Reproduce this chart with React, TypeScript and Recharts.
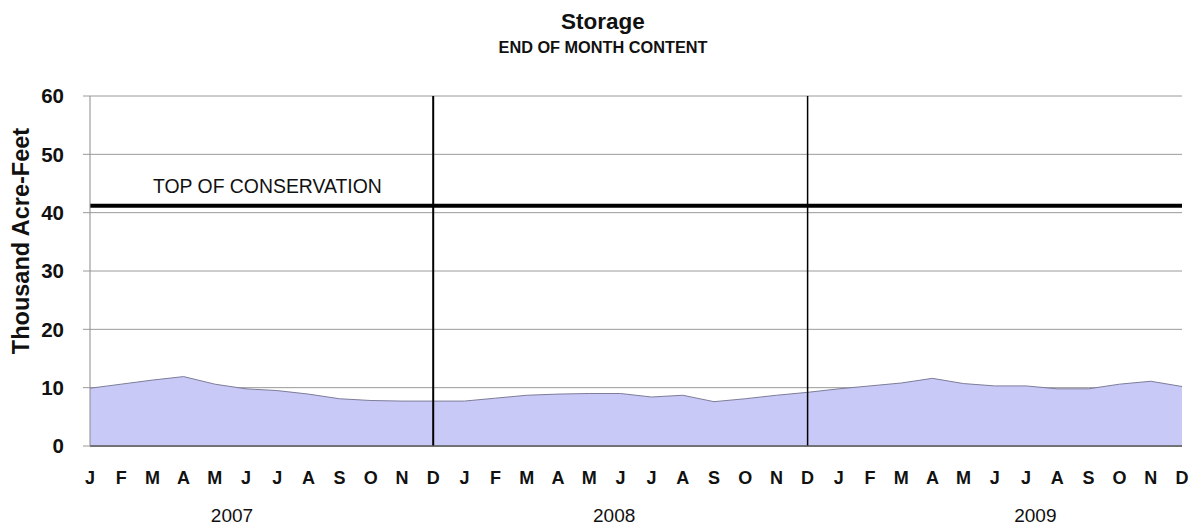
import React from 'react'
import { AreaChart, Area, XAxis, YAxis, CartesianGrid, ReferenceLine } from 'recharts'

const years = ['2007', '2008', '2009']
const months = ['J', 'F', 'M', 'A', 'M', 'J', 'J', 'A', 'S', 'O', 'N', 'D']

// end of month content, thousand acre-feet
const storage2007 = [9.9, 10.6, 11.3, 11.9, 10.6, 9.8, 9.5, 8.9, 8.1, 7.8, 7.7, 7.7]
const storage2008 = [7.7, 8.2, 8.7, 8.9, 9.0, 9.0, 8.4, 8.7, 7.6, 8.1, 8.7, 9.2]
const storage2009 = [9.8, 10.3, 10.8, 11.6, 10.7, 10.3, 10.3, 9.8, 9.8, 10.6, 11.1, 10.2]

const topOfConservation = 41.2
const yTicks = [0, 10, 20, 30, 40, 50, 60]
// where the year captions sit, in month-index units along the axis
const yearTickPos = [4.55, 16.8, 30.3]

const allValues = [storage2007, storage2008, storage2009]

const chartData = years.flatMap((yr, yi) =>
  months.map((m, mi) => ({
    key: `${yr}-${mi + 1}`,
    month: m,
    idx: yi * 12 + mi,
    storage: allValues[yi][mi],
  }))
)

const font = 'Arial, "Liberation Sans", Helvetica, sans-serif'

function MonthTick(props: any) {
  const { x, y, payload } = props
  const row = chartData.find((d) => d.key === payload.value)
  return (
    <text
      x={x}
      y={y + 36}
      textAnchor="middle"
      fontFamily={font}
      fontWeight="bold"
      fontSize={18}
      fill="#111"
    >
      {row ? row.month : ''}
    </text>
  )
}

export default function App() {
  return (
    <div style={{ position: 'absolute', left: 0, top: 0, width: 1190, height: 529, background: '#fff', fontFamily: font }}>
      {/* titles */}
      <div style={{ position: 'absolute', left: 0, width: 1206, top: 8, textAlign: 'center', fontWeight: 'bold', fontSize: 22.5, lineHeight: '27px', color: '#111' }}>
        Storage
      </div>
      <div style={{ position: 'absolute', left: 0, width: 1206, top: 38, textAlign: 'center', fontWeight: 'bold', fontSize: 16.3, lineHeight: '18px', color: '#111' }}>
        END OF MONTH CONTENT
      </div>

      <AreaChart
        width={1190}
        height={529}
        data={chartData}
        margin={{ top: 96, right: 8, bottom: 0, left: 0 }}
        style={{ position: 'absolute', left: 0, top: 0 }}
      >
        <CartesianGrid vertical={false} stroke="#9a9a9a" strokeWidth={1} />
        <XAxis
          dataKey="key"
          interval={0}
          height={50}
          tickSize={0}
          tickLine={false}
          axisLine={{ stroke: '#555', strokeWidth: 1.5 }}
          tick={<MonthTick />}
        />
        <XAxis
          xAxisId="year"
          dataKey="idx"
          type="number"
          domain={[0, 35]}
          ticks={yearTickPos}
          tickFormatter={(v: number) => years[yearTickPos.indexOf(v)] ?? ''}
          height={33}
          tickSize={0}
          tickMargin={13}
          tickLine={false}
          axisLine={false}
          tick={{ fontFamily: font, fontSize: 19, fill: '#111' }}
        />
        <YAxis
          domain={[0, 60]}
          ticks={yTicks}
          width={90}
          tickSize={7}
          tickMargin={19}
          axisLine={{ stroke: '#8a8a8a' }}
          tickLine={{ stroke: '#9a9a9a' }}
          tick={{ fontFamily: font, fontWeight: 'bold', fontSize: 20.5, fill: '#111' }}
          label={{
            value: 'Thousand Acre-Feet',
            angle: -90,
            position: 'insideLeft',
            dx: 16,
            dy: -30,
            style: { textAnchor: 'middle', fontFamily: font, fontWeight: 'bold', fontSize: 23.5, fill: '#111' },
          }}
        />
        <Area
          type="linear"
          dataKey="storage"
          stroke="#7d7d9a"
          strokeWidth={1}
          fill="#c9c9f8"
          fillOpacity={1}
          isAnimationActive={false}
        />
        <ReferenceLine
          y={topOfConservation}
          stroke="#000"
          strokeWidth={4}
          label={{
            value: 'TOP OF CONSERVATION',
            position: 'insideBottomLeft',
            offset: 0,
            dx: 63,
            dy: -13,
            style: { fontFamily: font, fontSize: 19.4, fill: '#111' },
          }}
        />
        <ReferenceLine x="2007-12" stroke="#000" strokeWidth={2} />
        <ReferenceLine x="2008-12" stroke="#000" strokeWidth={1.5} />
      </AreaChart>
    </div>
  )
}
